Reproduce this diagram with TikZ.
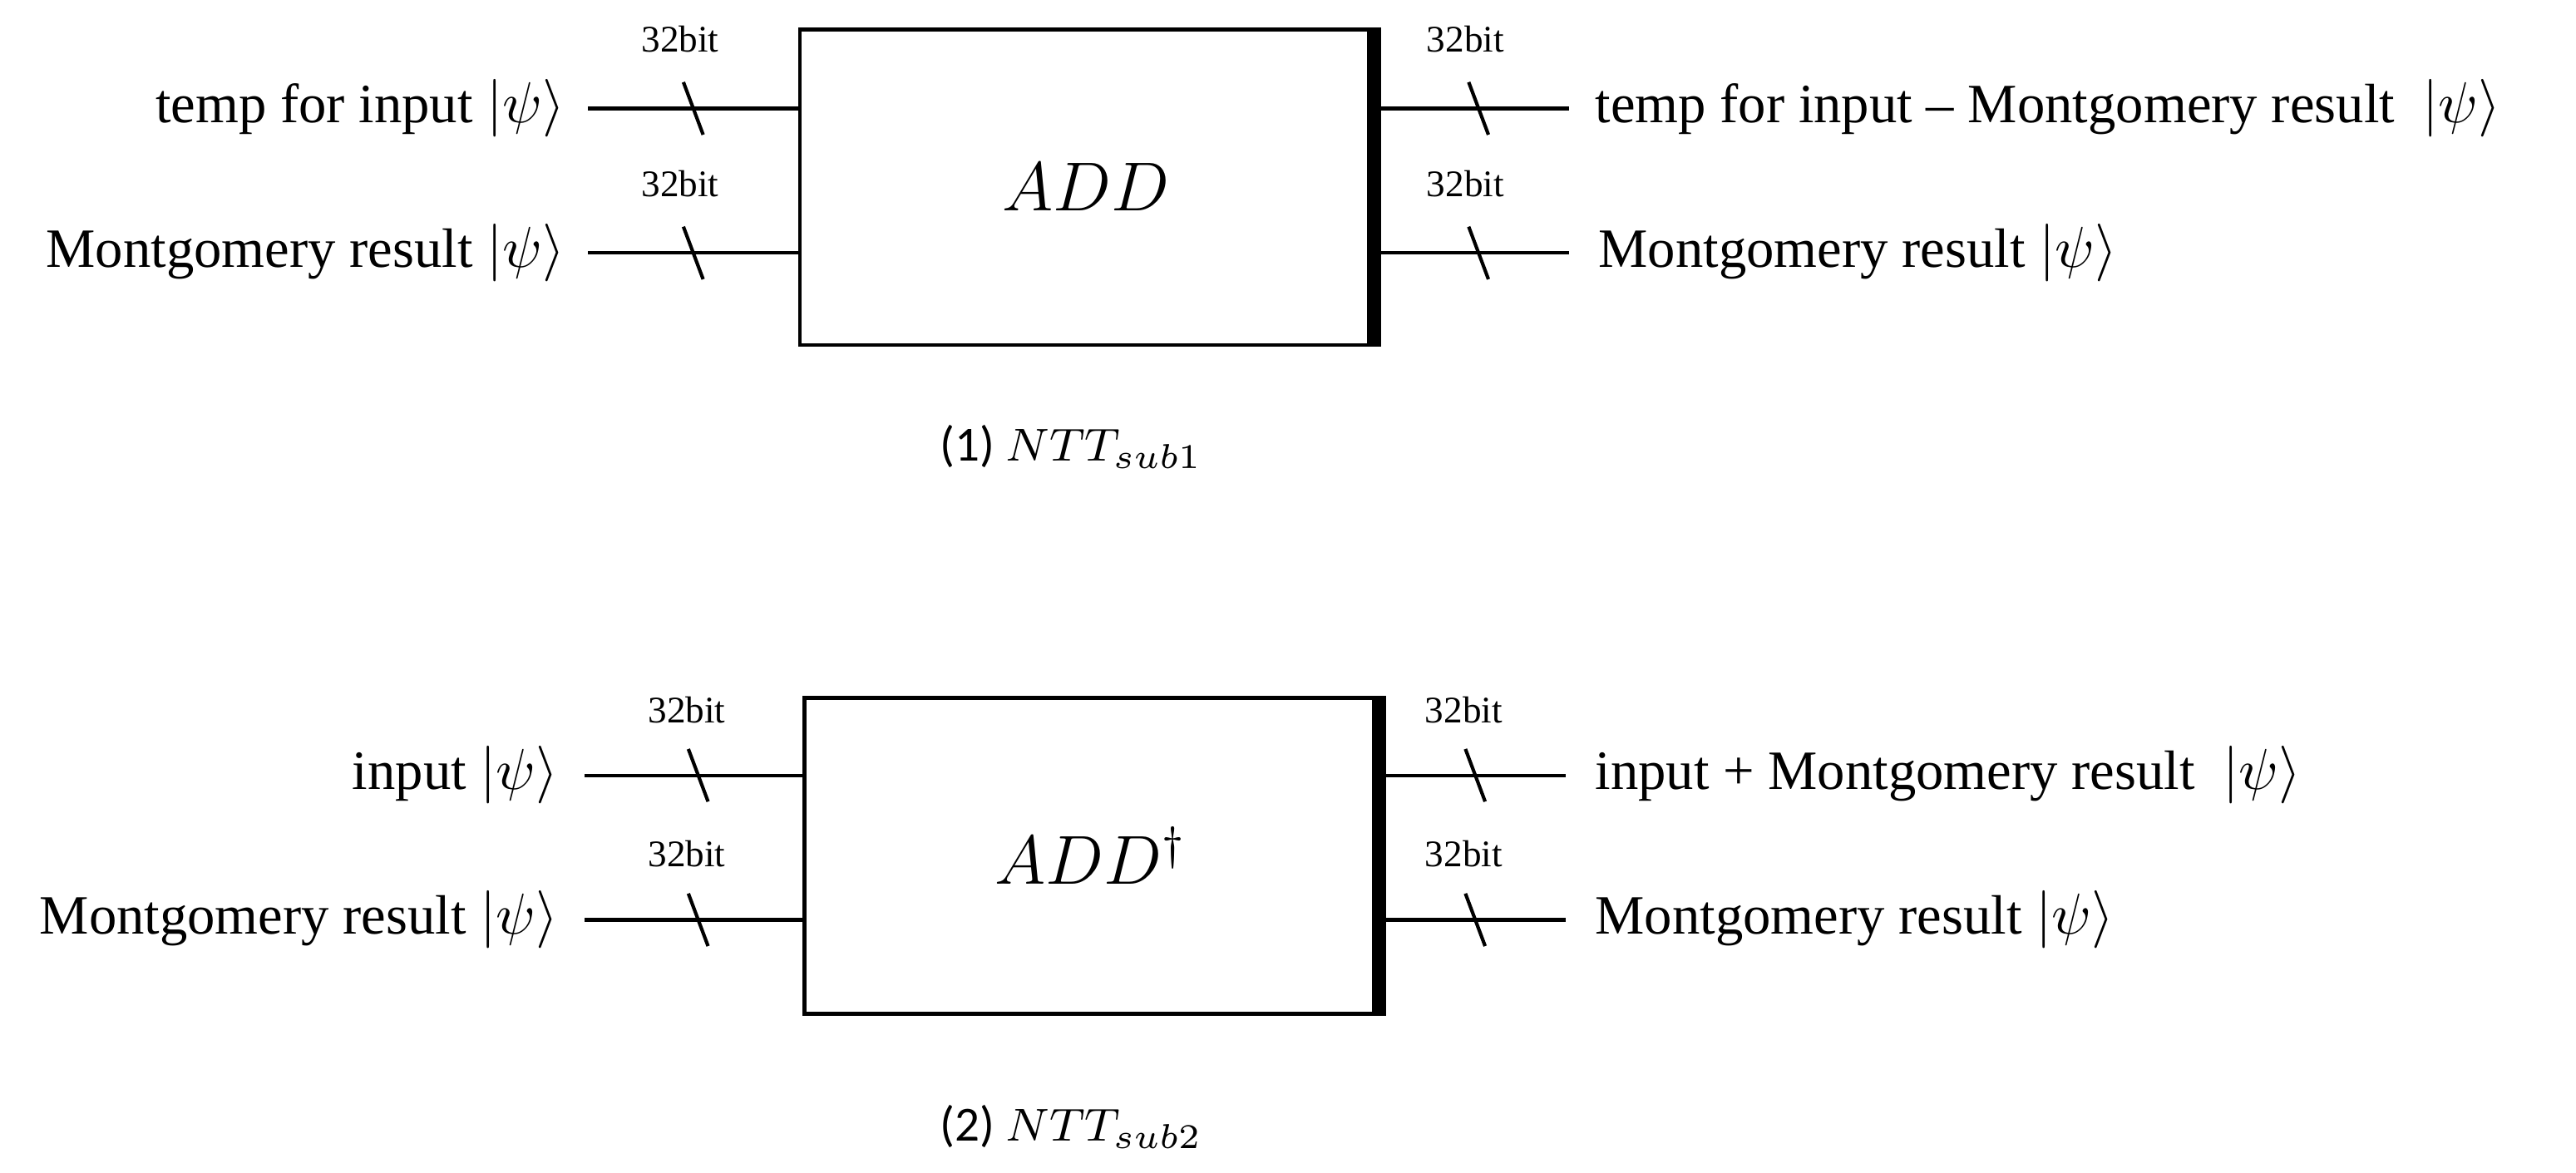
\documentclass[tikz,border=0pt]{standalone}
\usepackage{fontspec}
\setmainfont{Liberation Serif}
\newfontfamily\capfont{Carlito}
\usepackage{tikz}
\usetikzlibrary{positioning}

\begin{document}
\begin{tikzpicture}[x=0.01cm,y=-0.01cm,line width=0.6pt]
  \tikzstyle{gate}=[draw,line width=0.7pt,minimum width=3.48cm,minimum height=1.92cm,inner sep=0pt,font=\large]
  \tikzstyle{bits}=[font=\fontsize{6.5}{7}\selectfont,inner sep=0pt]
  \tikzstyle{lbl}=[font=\fontsize{9.6}{12}\selectfont,inner sep=0pt]
  \tikzstyle{caption}=[font=\capfont\fontsize{8.5}{10}\selectfont]
  \useasboundingbox (0,0) rectangle (1568,714);
  % first block
  \node[gate] (add) at (661,114) {$ADD$};
  \draw[line width=2.5pt] (add.north east) -- (add.south east);
  \coordinate (a_in1) at (358,66);   \coordinate (a_in2) at (358,154);
  \coordinate (a_out1) at (955,66);  \coordinate (a_out2) at (955,154);
  \draw (a_in1) -- (a_in1 -| add.west);   \draw (a_in2) -- (a_in2 -| add.west);
  \draw (a_out1) -- (a_out1 -| add.east); \draw (a_out2) -- (a_out2 -| add.east);
  \foreach \x/\y in {422/66,422/154,900/66,900/154}{
    \draw (\x-6,\y-16) -- (\x+6,\y+16);
    \node[bits] at (\x-8,\y-42) {32bit};
  }
  \node[lbl,anchor=east] (t_in) at (345,66) {temp for input $|\psi\rangle$};
  \node[lbl,anchor=east] (m_in) at (345,154) {Montgomery result $|\psi\rangle$};
  \node[lbl,anchor=west] (t_out) at (970,66) {temp for input -- Montgomery result~ $|\psi\rangle$};
  \node[lbl,anchor=west] (m_out) at (972,154) {Montgomery result $|\psi\rangle$};
  \node[caption] (cap1) at (652,272) {(1) $NTT_{sub1}$};
  % second block
  \node[gate] (addd) at (664,521) {$ADD^{\dagger}$};
  \draw[line width=2.5pt] (addd.north east) -- (addd.south east);
  \coordinate (b_in1) at (356,472);  \coordinate (b_in2) at (356,560);
  \coordinate (b_out1) at (953,472); \coordinate (b_out2) at (953,560);
  \draw (b_in1) -- (b_in1 -| addd.west);   \draw (b_in2) -- (b_in2 -| addd.west);
  \draw (b_out1) -- (b_out1 -| addd.east); \draw (b_out2) -- (b_out2 -| addd.east);
  \foreach \x/\y in {425/472,425/560,898/472,898/560}{
    \draw (\x-6,\y-16) -- (\x+6,\y+16);
    \node[bits] at (\x-7,\y-40) {32bit};
  }
  \node[lbl,anchor=east] (i_in) at (341,472) {input $|\psi\rangle$};
  \node[lbl,anchor=east] (n_in) at (341,560) {Montgomery result $|\psi\rangle$};
  \node[lbl,anchor=west] (i_out) at (970,472) {input + Montgomery result~ $|\psi\rangle$};
  \node[lbl,anchor=west] (n_out) at (970,560) {Montgomery result $|\psi\rangle$};
  \node[caption] (cap2) at (652,686) {(2) $NTT_{sub2}$};
\end{tikzpicture}
\end{document}
